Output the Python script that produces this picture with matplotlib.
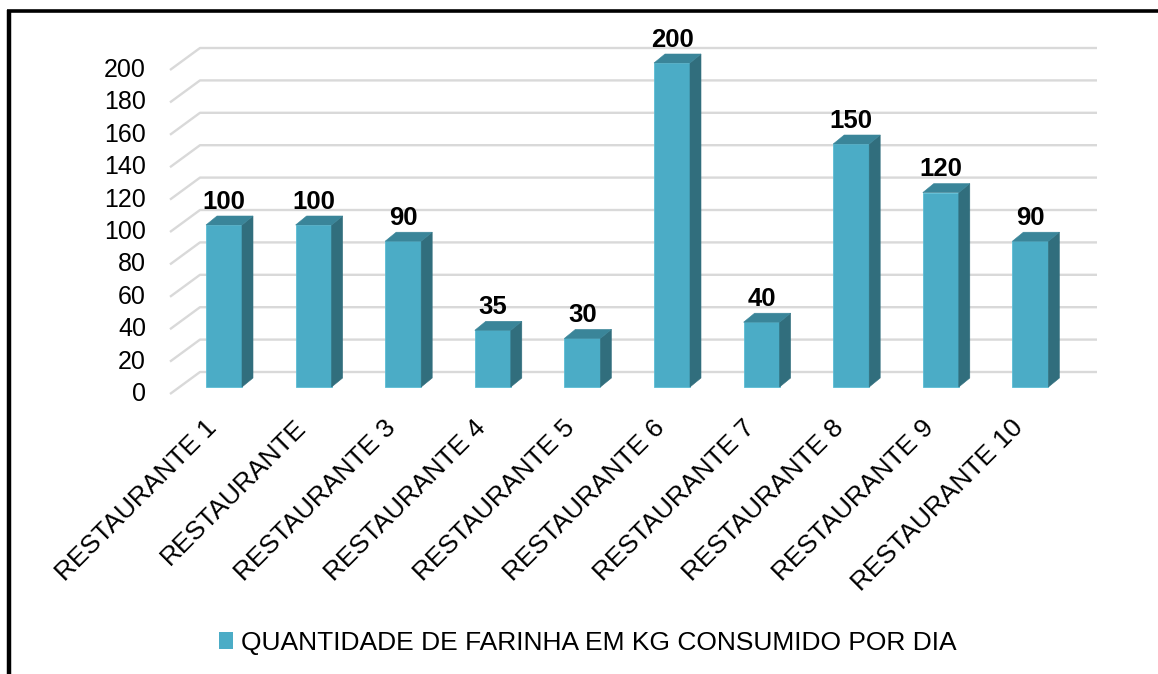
import matplotlib
matplotlib.use("Agg")
import matplotlib.pyplot as plt
from matplotlib.patches import Polygon, Patch
from matplotlib.lines import Line2D

plt.rcParams['font.family'] = ['Liberation Sans', 'DejaVu Sans']

# ---- data ----
categories = ["RESTAURANTE 1", "RESTAURANTE", "RESTAURANTE 3", "RESTAURANTE 4",
              "RESTAURANTE 5", "RESTAURANTE 6", "RESTAURANTE 7", "RESTAURANTE 8",
              "RESTAURANTE 9", "RESTAURANTE 10"]
values = [100, 100, 90, 35, 30, 200, 40, 150, 120, 90]
yticks = [0, 20, 40, 60, 80, 100, 120, 140, 160, 180, 200]
series_name = "QUANTIDADE DE FARINHA EM KG CONSUMIDO POR DIA"

# ---- colours ----
c_front = "#4BACC6"
c_side = "#316E7D"
c_top = "#3A8599"
c_grid = "#D9D9D9"

W, H, DPI = 1158, 674, 100
fig = plt.figure(figsize=(W / DPI, H / DPI), dpi=DPI)
ax = fig.add_axes([0, 0, 1, 1])
ax.set_axis_off()

# scale: category spacing and value scale in pixels
px_cat = 89.6
px_val = 1.62
x0_px = 224.0      # centre of first bar front face
y0_px = 387.0      # baseline of bars (from top)
ax.set_xlim(-x0_px / px_cat, (W - x0_px) / px_cat)
ax.set_ylim(-(H - y0_px) / px_val, y0_px / px_val)

# geometry in data units
bw = 36 / px_cat           # bar front width
bdx = 11 / px_cat          # bar depth x
bdy = 9 / px_val           # bar depth y
wall_back_x = (200 - x0_px) / px_cat
wall_front_x = (170 - x0_px) / px_cat
wall_right_x = (1097 - x0_px) / px_cat
grid_back_dy = (y0_px - 372) / px_val
grid_front_dy = (y0_px - 394) / px_val

# gridlines (3D wall style)
for t in yticks:
    ax.plot([wall_front_x, wall_back_x, wall_right_x],
            [t + grid_front_dy, t + grid_back_dy, t + grid_back_dy],
            color=c_grid, lw=1.7, solid_capstyle='butt', zorder=1)
    ax.text((146 - x0_px) / px_cat, t + grid_front_dy, str(t),
            ha='right', va='center', fontsize=18, color='black')

# bars
for i, v in enumerate(values):
    xl, xr = i - bw / 2, i + bw / 2
    front = Polygon([(xl, 0), (xr, 0), (xr, v), (xl, v)], closed=True,
                    facecolor=c_front, edgecolor="#5BBCD4", lw=0.6, zorder=3)
    side = Polygon([(xr, 0), (xr + bdx, bdy), (xr + bdx, v + bdy), (xr, v)],
                   closed=True, facecolor=c_side, edgecolor=c_side, lw=0.4, zorder=3)
    top = Polygon([(xl, v), (xr, v), (xr + bdx, v + bdy), (xl + bdx, v + bdy)],
                  closed=True, facecolor=c_top, edgecolor=c_top, lw=0.4, zorder=3)
    for p in (front, side, top):
        ax.add_patch(p)
    ax.text(i, v + bdy + 4.5, str(v), ha='center', va='baseline',
            fontsize=18.5, fontweight='bold', color='black', zorder=4)
    ax.text(i - bdx, (y0_px - 424) / px_val, categories[i], rotation=45,
            rotation_mode='anchor', ha='right', va='center', fontsize=19,
            color='black')

# legend
handle = Patch(facecolor=c_front, edgecolor='none')
fig.legend(handles=[handle], labels=[series_name], loc='center',
           bbox_to_anchor=(588 / W, 1 - 643 / H), frameon=False,
           fontsize=19, handlelength=0.55, handleheight=0.6, handletextpad=0.3,
           borderpad=0, borderaxespad=0)

# outer frame (cropped at right and bottom)
fig.add_artist(Line2D([7 / W, 1.0], [1 - 11 / H, 1 - 11 / H], color='black',
                      lw=2.6, solid_capstyle='butt', transform=fig.transFigure))
fig.add_artist(Line2D([8.5 / W, 8.5 / W], [1 - 9.5 / H, 0.0], color='black',
                      lw=3.2, solid_capstyle='butt', transform=fig.transFigure))

fig.savefig("out.png", dpi=DPI)
